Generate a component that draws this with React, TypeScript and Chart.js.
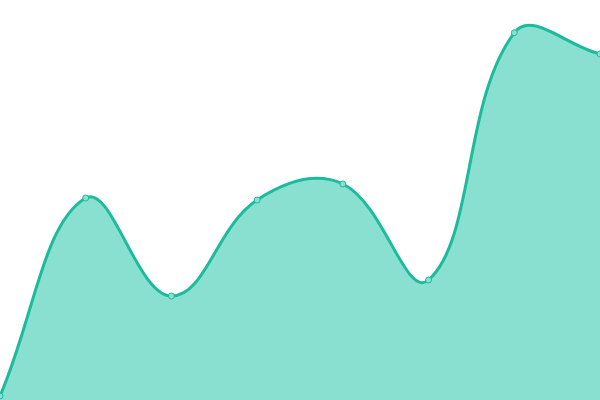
import { useEffect, useRef } from "react";
import { Chart, registerables } from "chart.js";

Chart.register(...registerables);

const labels = ["A", "B", "C", "D", "E", "F", "G", "H"];
const values = [1, 50.5, 26, 50, 54, 30, 91.8, 86.5];

export default function App() {
  const canvasRef = useRef<HTMLCanvasElement | null>(null);

  useEffect(() => {
    document.body.style.margin = "0";
    if (!canvasRef.current) return;
    const chart = new Chart(canvasRef.current, {
      type: "line",
      data: {
        labels,
        datasets: [
          {
            data: values,
            borderColor: "#1abc9c",
            backgroundColor: "#8ae0d0",
            borderWidth: 3,
            fill: true,
            tension: 0.4,
            pointRadius: 3,
            pointBackgroundColor: "#8ae0d0",
            pointBorderColor: "#1abc9c",
            pointBorderWidth: 1,
          },
        ],
      },
      options: {
        animation: false,
        responsive: false,
        layout: { padding: 0, autoPadding: false },
        scales: {
          x: { display: false, offset: false },
          y: { display: false, min: 0, max: 100 },
        },
        plugins: { legend: { display: false }, tooltip: { enabled: false } },
      },
    });
    return () => chart.destroy();
  }, []);

  return (
    <div style={{ width: 600, height: 400 }}>
      <canvas ref={canvasRef} width={600} height={400} />
    </div>
  );
}
